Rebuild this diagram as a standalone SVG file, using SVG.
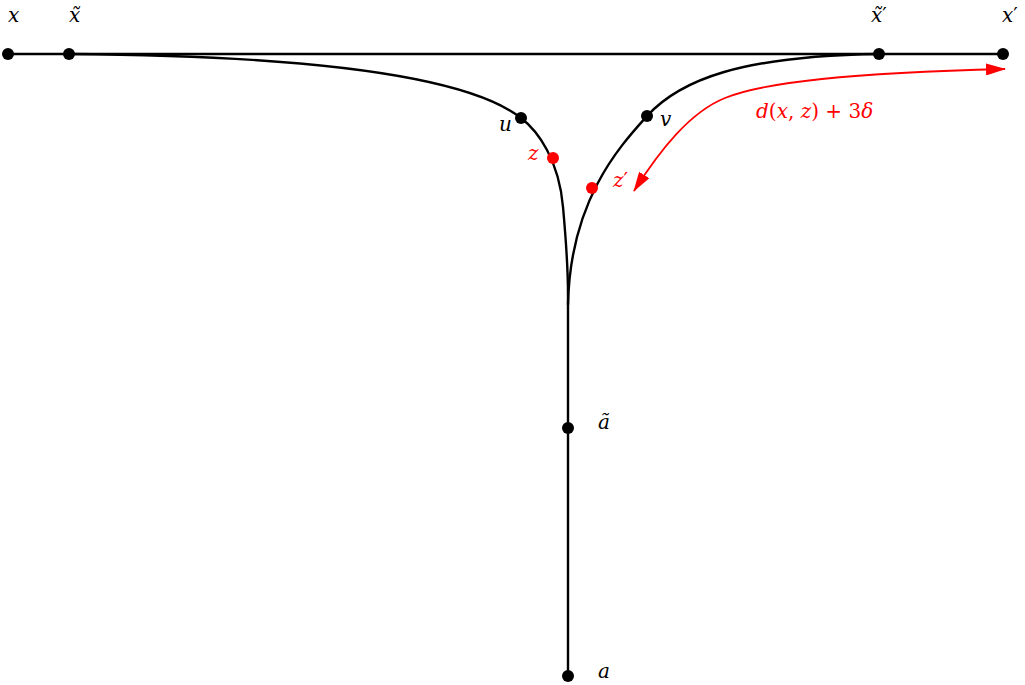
<svg xmlns="http://www.w3.org/2000/svg" width="1025" height="685" viewBox="0 0 1025 685">
<style>
.edge{fill:none;stroke:#000;stroke-width:2.4}
.red{fill:none;stroke:#f00;stroke-width:1.8}
.dot{fill:#000}
.rdot{fill:#f00}
text{font-family:"DejaVu Serif","Liberation Serif",serif;font-style:italic;font-size:20px;fill:#000}
.rt{fill:#f00}
.up{font-style:normal}
</style>
<defs>
<marker id="ahb" viewBox="0 0 20 12" refX="19" refY="6" markerWidth="20" markerHeight="12" markerUnits="userSpaceOnUse" orient="auto-start-reverse">
<path d="M0,0 L20,6 L0,12 Z" fill="#f00"/>
</marker>
</defs>
<g id="connectors">
<path class="edge" d="M8,54 L1003,54"/>
<path class="edge" d="M69,54 C350,56 475,82 521,118 C538,131 559,160 563,207 C566,240 568,265 568,295 L568,676"/>
<path class="edge" d="M879,54 C740,56 680,80 647,116 C620,146 570,200 568,305"/>
<path class="red" marker-start="url(#ahb)" marker-end="url(#ahb)" d="M1005,69 C850,73 765,82 725,98 C690,112 660,150 634,191"/>
</g>
<g id="node-x"><circle class="dot" cx="8" cy="54" r="6"/><text x="8" y="22">x</text></g>
<g id="node-xt"><circle class="dot" cx="69" cy="54" r="6"/><text x="69" y="22">x̃</text></g>
<g id="node-xpt"><circle class="dot" cx="879" cy="54" r="6"/><text x="871" y="22">x̃<tspan class="up">′</tspan></text></g>
<g id="node-xp"><circle class="dot" cx="1003" cy="54" r="6"/><text x="1002" y="22">x<tspan class="up">′</tspan></text></g>
<g id="node-u"><circle class="dot" cx="521" cy="118" r="6"/><text x="499" y="131">u</text></g>
<g id="node-z"><circle class="rdot" cx="553" cy="158" r="6"/><text class="rt" x="528" y="160">z</text></g>
<g id="node-v"><circle class="dot" cx="647" cy="116" r="6"/><text x="660" y="126">v</text></g>
<g id="node-zp"><circle class="rdot" cx="592" cy="188" r="6"/><text class="rt" x="613" y="187">z<tspan class="up">′</tspan></text></g>
<g id="node-at"><circle class="dot" cx="568" cy="428" r="6"/><text x="598" y="429">ã</text></g>
<g id="node-a"><circle class="dot" cx="568" cy="676" r="6"/><text x="598" y="678">a</text></g>
<g id="label"><text class="rt" x="756" y="118">d<tspan class="up">(</tspan>x<tspan class="up">, </tspan>z<tspan class="up">) + 3</tspan>δ</text></g>
</svg>
